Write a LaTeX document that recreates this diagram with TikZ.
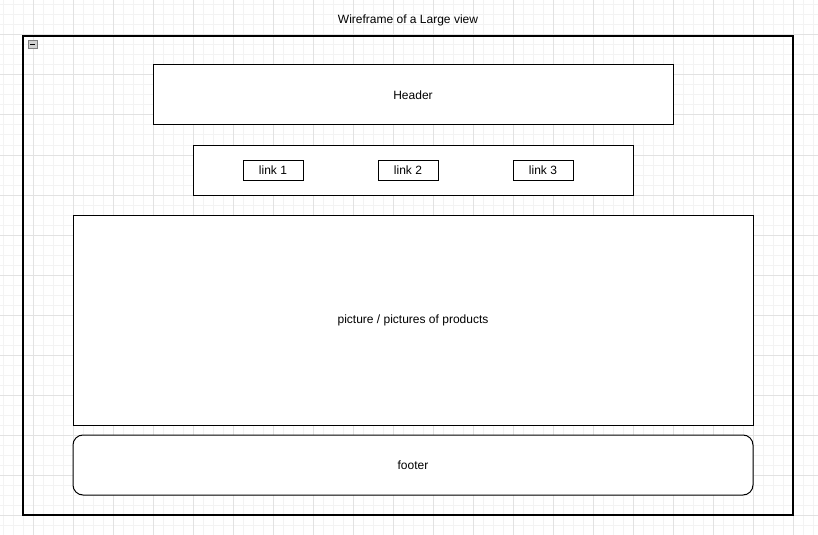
\documentclass[tikz,border=0pt]{standalone}
\usepackage{fontspec}
\setmainfont{Liberation Sans}
\usepackage{xcolor}
\usepackage{tikz}

\definecolor{minorgrid}{HTML}{F3F3F3}
\definecolor{majorgrid}{HTML}{E2E2E2}

\tikzset{
  wbox/.style={draw=black, fill=white, line width=0.75pt, inner sep=0pt, outer sep=0pt,
    font=\fontsize{9}{11}\selectfont},
  linkbox/.style={wbox, minimum width=45pt, minimum height=15pt}
}

\begin{document}
\begin{tikzpicture}[x=0.75pt, y=-0.75pt]
    \useasboundingbox[fill=white] (0,0) rectangle (818,535);

    % grid
    \foreach \gx in {3,13,...,813} \draw[minorgrid, line width=0.75pt] (\gx,0) -- (\gx,535);
    \foreach \gy in {5,15,...,535} \draw[minorgrid, line width=0.75pt] (0,\gy) -- (818,\gy);
    \foreach \gx in {33,73,...,793} \draw[majorgrid, line width=0.75pt] (\gx,0) -- (\gx,535);
    \foreach \gy in {35,75,...,515} \draw[majorgrid, line width=0.75pt] (0,\gy) -- (818,\gy);

    \node[font=\fontsize{9}{11}\selectfont] (title) at (408,20) {Wireframe of a Large view};

    \node[draw=black, line width=1pt, minimum width=577.5pt, minimum height=359.25pt] (frame) at (408,275.5) {};
    \node[draw=gray, fill=gray!35, line width=0.5pt, minimum width=6.5pt, minimum height=6.5pt, inner sep=0pt] (collapse) at (32.5,44.5) {};
    \draw[line width=0.9pt] ([xshift=1.6pt]collapse.west) -- ([xshift=-1.6pt]collapse.east);

    \node[wbox, minimum width=390pt, minimum height=45pt] (header) at (413,95) {Header};

    \node[wbox, minimum width=330pt, minimum height=37.5pt] (nav) at (413,170) {};
    \node[linkbox] (link1) at (273,170) {link 1};
    \node[linkbox] (link2) at (408,170) {link 2};
    \node[linkbox] (link3) at (543,170) {link 3};

    \node[wbox, minimum width=510pt, minimum height=157.5pt] (pictures) at (413,320) {picture / pictures of products};

    \node[wbox, rounded corners=7.5pt, minimum width=510pt, minimum height=45pt] (footer) at (413,465) {footer};

  \end{tikzpicture}
\end{document}
